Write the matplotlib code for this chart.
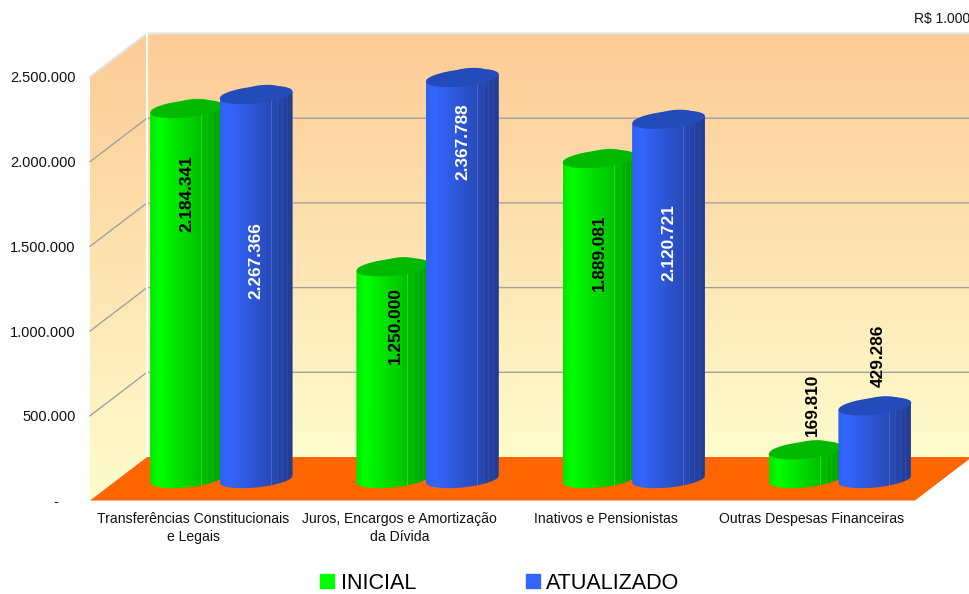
import numpy as np
import matplotlib
matplotlib.use("Agg")
import matplotlib.pyplot as plt
from matplotlib.patches import Polygon, Patch
from matplotlib.colors import to_rgb

# valores em R$ 1.000
categorias = ["Transferências Constitucionais\ne Legais",
              "Juros, Encargos e Amortização\nda Dívida",
              "Inativos e Pensionistas",
              "Outras Despesas Financeiras"]
inicial = [2184341, 1250000, 1889081, 169810]
atualizado = [2267366, 2367788, 2120721, 429286]
rotulos_inicial = ["2.184.341", "1.250.000", "1.889.081", "169.810"]
rotulos_atualizado = ["2.267.366", "2.367.788", "2.120.721", "429.286"]
y_ticks = [0, 500000, 1000000, 1500000, 2000000, 2500000]
y_labels = ["-    ", "500.000", "1.000.000", "1.500.000", "2.000.000", "2.500.000"]

# deslocamento dos rotulos em pixels, a partir do topo da barra
desloc_inicial = [-85, -58, -94, 45]
desloc_atualizado = [-166, -64, -123, 50]
desloc_x_inicial = [0, 3, 0, 7]
desloc_x_atualizado = [0, 1, 0, 3]

W, H = 970, 594
plt.rcParams["font.family"] = ["Liberation Sans", "DejaVu Sans"]
fig = plt.figure(figsize=(W / 100, H / 100), dpi=100)
ax = fig.add_axes([90 / W, 1 - 500.5 / H, 825 / W, 423.5 / H])
ax.set_xlim(0, 4)
ax.set_ylim(0, 2500000)

# conversao pixel -> unidade dos eixos
px_x = 4 / 825
px_y = 2500000 / 423.5
dx_fundo, dy_fundo = 57 * px_x, 43.5 * px_y
dx_barra, dy_barra = 27 * px_x, 21.5 * px_y


def gradiente(extent, cores, vertical, clip, zorder):
    # imagem de uma linha (ou coluna) recortada pelo poligono
    n = cores.shape[0]
    img = cores.reshape((n, 1, 3)) if vertical else cores.reshape((1, n, 3))
    im = ax.imshow(img, extent=extent, aspect="auto", origin="upper",
                   interpolation="bilinear" if vertical else "nearest",
                   zorder=zorder)
    im.set_clip_box(fig.bbox)
    im.set_clip_path(Polygon(clip, closed=True, transform=ax.transData))


# paredes
topo = 2500000
pos = np.linspace(0, 1, 100)
c_topo = np.array([253, 203, 150]) / 255
c_base = np.array([255, 252, 205]) / 255
parede = np.array([c_topo + (c_base - c_topo) * p for p in pos])
fundo = [(dx_fundo, dy_fundo), (4 + dx_fundo, dy_fundo), (4 + dx_fundo, topo + dy_fundo), (dx_fundo, topo + dy_fundo)]
lateral = [(0, 0), (dx_fundo, dy_fundo), (dx_fundo, topo + dy_fundo), (0, topo)]
gradiente((0, 4 + dx_fundo, dy_fundo, topo + dy_fundo), parede, True, fundo, 1)
gradiente((0, 4 + dx_fundo, 0, topo + dy_fundo), parede, True, lateral, 1)

# piso
ax.add_patch(Polygon([(0, 0), (4, 0), (4 + dx_fundo, dy_fundo), (dx_fundo, dy_fundo)],
                     closed=True, fc="#ff6600", ec="none", zorder=2, clip_on=False))

# grade
for v in y_ticks[1:-1]:
    ax.plot([0, dx_fundo, 4 + dx_fundo], [v, v + dy_fundo, v + dy_fundo],
            color="#a0a0a0", lw=1, zorder=1.5, clip_on=False)
ax.plot([0, dx_fundo, 4 + dx_fundo], [topo, topo + dy_fundo, topo + dy_fundo],
        color="#e2e2e2", lw=1.5, zorder=1.5, clip_on=False)
ax.plot([dx_fundo, dx_fundo], [dy_fundo, topo + dy_fundo], color="white", lw=1.5, zorder=1.6, clip_on=False)
ax.plot([0, dx_fundo], [0, dy_fundo], color="white", lw=1, zorder=1.6, clip_on=False)


def cilindro(centro, valor, c_esq, c_luz, c_dir, c_topo_barra, zorder):
    meia_l = 36.5 * px_x
    semi = 8.5 * px_y
    incl = 3.5 * px_y
    t = np.linspace(-1, 1, 90)
    xs = centro + meia_l * t
    arco = semi * np.sqrt(1 - t ** 2)
    base = dy_barra + incl * t
    corpo = list(zip(xs, base - arco)) + list(zip(xs[::-1], (base + valor)[::-1]))

    cols = np.zeros((72, 3))
    u = np.linspace(-1, 1, 72)
    for i in range(3):
        cols[:, i] = np.interp(u, [-1, -0.75, 1], [c_esq[i], c_luz[i], c_dir[i]])
    # faixas claras no lado escuro do cilindro
    for k in range(56, 72, 5):
        cols[k] = np.clip(cols[k] + 0.04, 0, 1)
    cols[50] = np.clip(cols[50] + 0.12, 0, 1)
    gradiente((xs[0], xs[-1], 0, valor + dy_barra + semi * 2), cols, False, corpo, zorder)

    # tampa
    ax.fill(np.r_[xs, xs[::-1]], np.r_[base + valor - arco, (base + valor + arco)[::-1]],
            color=c_topo_barra, lw=0, zorder=zorder + 0.1, clip_on=False)
    # ondulacao do contorno da tampa
    xb = centro + 0.62 * meia_l * t + 0.15 * meia_l
    ybase = dy_barra + valor + incl * (0.62 * t + 0.15) + 1.2 * px_y
    arco_b = 0.95 * semi * np.sqrt(1 - t ** 2)
    ax.fill(np.r_[xb, xb[::-1]], np.r_[ybase - arco_b, (ybase + arco_b)[::-1]],
            color=c_topo_barra, lw=0, zorder=zorder + 0.1, clip_on=False)


verde = dict(c_esq=to_rgb("#00e800"), c_luz=to_rgb("#00ff00"), c_dir=to_rgb("#00a000"), c_topo_barra="#00b900")
azul = dict(c_esq=to_rgb("#2f62f0"), c_luz=to_rgb("#3366ff"), c_dir=to_rgb("#233c90"), c_topo_barra="#234bb9")

cat_x = np.arange(4) + 0.5
for i in range(4):
    grupo = cat_x[i] + dx_barra
    x_v = grupo - 33.5 * px_x
    x_a = grupo + 36 * px_x
    cilindro(x_v, inicial[i], zorder=3 + i, **verde)
    cilindro(x_a, atualizado[i], zorder=3.5 + i, **azul)
    cor_a = "white" if desloc_atualizado[i] < 0 else "black"
    ax.annotate(rotulos_inicial[i], (x_v, inicial[i] + dy_barra), xytext=(desloc_x_inicial[i], desloc_inicial[i]),
                textcoords="offset pixels", rotation=90, ha="center", va="center",
                fontsize=12.4, fontweight="bold", color="black", zorder=20)
    ax.annotate(rotulos_atualizado[i], (x_a, atualizado[i] + dy_barra), xytext=(desloc_x_atualizado[i], desloc_atualizado[i]),
                textcoords="offset pixels", rotation=90, ha="center", va="center",
                fontsize=12.4, fontweight="bold", color=cor_a, zorder=20)

ax.set_xlim(0, 4)
ax.set_ylim(0, 2500000)
ax.set_xticks(cat_x)
ax.set_xticklabels(categorias, fontsize=10.1, linespacing=1.4, color="#111111")
ax.set_yticks(y_ticks)
ax.set_yticklabels(y_labels, fontsize=10.5, color="#111111")
ax.tick_params(length=0)
ax.tick_params(axis="x", pad=8)
ax.tick_params(axis="y", pad=10.5)
for s in ax.spines.values():
    s.set_visible(False)
ax.patch.set_visible(False)

fig.text(970 / W, 1 - 19.5 / H, "R$ 1.000", fontsize=10, ha="right", va="center", color="#111111")

fig.legend(handles=[Patch(color="#00ff00"), Patch(color="#3366ff")], labels=["INICIAL", "ATUALIZADO"],
           ncol=2, frameon=False, fontsize=15.5, handlelength=0.65, handleheight=0.65, handletextpad=0.3,
           columnspacing=5.1, loc="lower left", bbox_to_anchor=(318 / W, -2 / H), borderaxespad=0, borderpad=0.1)

fig.savefig("out.png", dpi=100)
